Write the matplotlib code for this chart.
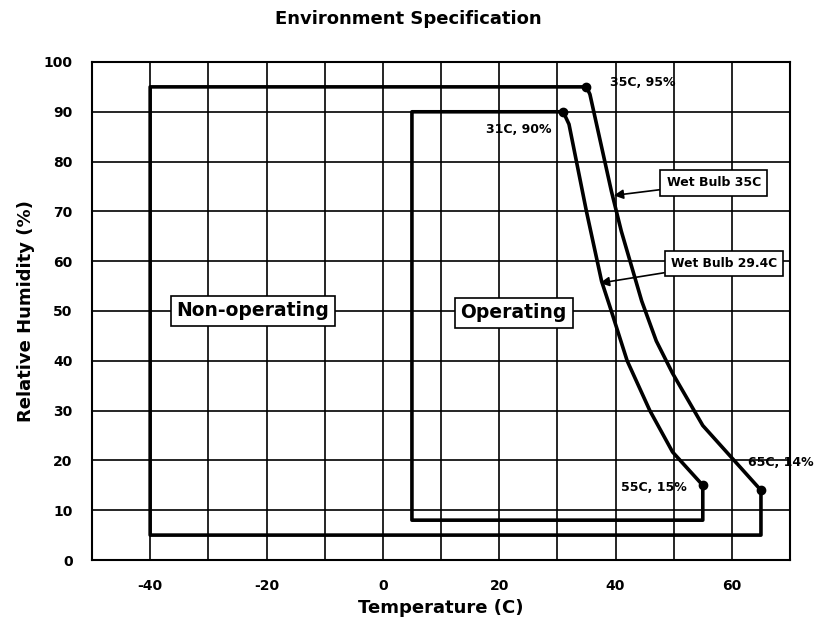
import matplotlib.pyplot as plt

# envelope corners (temperature C, relative humidity %)
nonop_T = [65, 65, -40, -40, 35]
nonop_RH = [14, 5, 5, 95, 95]
op_T = [55, 55, 5, 5, 31]
op_RH = [15, 8, 8, 90, 90]

# wet bulb curves
wb35_T = [35, 35.6, 39.3, 41, 44.5, 47, 49.8, 55, 60, 65]
wb35_RH = [95, 93.5, 74, 66, 52, 44, 37.5, 27, 20.5, 14]
wb29_T = [31, 32, 35, 37.6, 39, 42, 45.9, 49.8, 55]
wb29_RH = [90, 87.5, 70, 56, 51, 40, 30, 21.7, 15]

corner_T = [35, 31, 55, 65]
corner_RH = [95, 90, 15, 14]
corner_labels = ["35C, 95%", "31C, 90%", "55C, 15%", "65C, 14%"]

plt.rcParams['font.family'] = ['DejaVu Sans']
plt.rcParams['font.weight'] = 'bold'

fig = plt.figure(figsize=(8.17, 6.35), dpi=100)
ax = fig.add_axes([0.1126, 0.1181, 0.8544, 0.7843])

ax.set_xlim(-50, 70)
ax.set_ylim(0, 100)
ax.set_xticks(range(-50, 71, 10))
ax.set_xticklabels(["" if t % 20 else str(t) for t in range(-50, 71, 10)])
ax.set_yticks(range(0, 101, 10))
ax.grid(True, color="black", linewidth=1.2)
ax.set_axisbelow(True)
ax.tick_params(length=0, labelsize=10, pad=14)
for lab in ax.get_xticklabels() + ax.get_yticklabels():
    lab.set_fontweight("bold")
for s in ax.spines.values():
    s.set_linewidth(1.5)

lw = 2.6
ax.plot(wb35_T + nonop_T, wb35_RH + nonop_RH, color="black", linewidth=lw, zorder=3)
ax.plot(wb29_T + op_T, wb29_RH + op_RH, color="black", linewidth=lw, zorder=3)
ax.plot(corner_T, corner_RH, "o", color="black", markersize=6, zorder=4)

fs = 9
ax.text(39, 95.8, corner_labels[0], fontsize=fs, fontweight="bold", va="center", ha="left")
ax.text(29, 86.5, corner_labels[1], fontsize=fs, fontweight="bold", va="center", ha="right")
ax.text(52.3, 14.5, corner_labels[2], fontsize=fs, fontweight="bold", va="center", ha="right")
ax.text(62.7, 19.5, corner_labels[3], fontsize=fs, fontweight="bold", va="center", ha="left", clip_on=False)

box = dict(boxstyle="square,pad=0.3", facecolor="white", edgecolor="black", linewidth=1.2)
ax.text(-22.3, 50, "Non-operating", fontsize=13.5, fontweight="bold", ha="center", va="center", bbox=box, zorder=5)
ax.text(22.5, 49.6, "Operating", fontsize=13.5, fontweight="bold", ha="center", va="center", bbox=box, zorder=5)

small = dict(boxstyle="square,pad=0.5", facecolor="white", edgecolor="black", linewidth=1.2)
arrow = dict(arrowstyle="-|>", color="black", linewidth=1.2, mutation_scale=14, shrinkA=0, shrinkB=0)
ax.annotate("Wet Bulb 35C", xy=(39.7, 73.2), xytext=(56.9, 75.7), fontsize=9, fontweight="bold",
            ha="center", va="center", bbox=small, arrowprops=arrow, zorder=5)
ax.annotate("Wet Bulb 29.4C", xy=(37.3, 55.6), xytext=(58.6, 59.6), fontsize=8.8, fontweight="bold",
            ha="center", va="center", bbox=small, arrowprops=arrow, zorder=5)

ax.set_xlabel("Temperature (C)", fontsize=13, fontweight="bold", labelpad=4)
ax.set_ylabel("Relative Humidity (%)", fontsize=13, fontweight="bold", labelpad=6)
fig.text(0.5, 0.97, "Environment Specification", ha="center", va="center", fontsize=13, fontweight="bold")

fig.savefig("out.png", dpi=100)
